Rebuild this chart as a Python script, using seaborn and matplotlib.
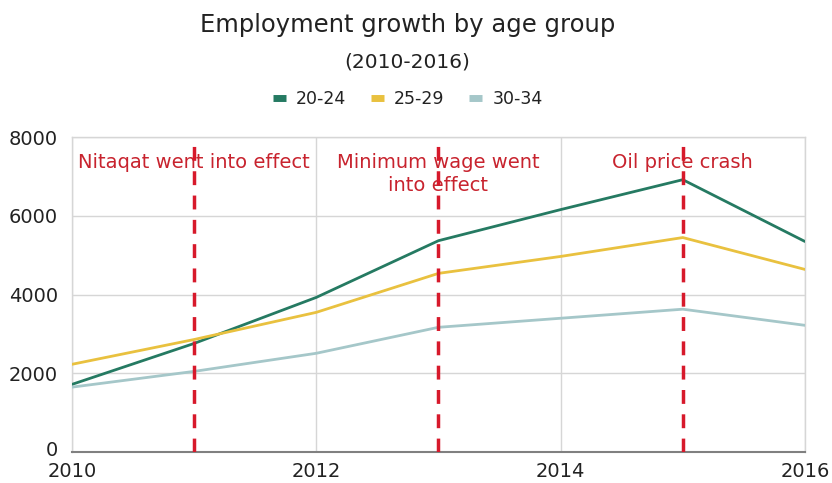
import matplotlib
matplotlib.use("Agg")
import matplotlib.pyplot as plt
import matplotlib.transforms as mtransforms
import seaborn as sns
import pandas as pd

years = [2010, 2011, 2012, 2013, 2014, 2015, 2016]
age_20_24 = [1720, 2760, 3930, 5370, 6160, 6920, 5350]
age_25_29 = [2230, 2860, 3550, 4540, 4970, 5450, 4640]
age_30_34 = [1650, 2050, 2510, 3170, 3400, 3630, 3220]
groups = ["20-24", "25-29", "30-34"]
colors = ["#257a62", "#e9c13f", "#a5c7c9"]

event_years = [2011, 2013, 2015]
event_labels = ["Nitaqat went into effect", "Minimum wage went\ninto effect", "Oil price crash"]

y_ticks = [0, 2000, 4000, 6000, 8000]
x_ticks = [2010, 2012, 2014, 2016]

df = pd.DataFrame({
    "year": years * 3,
    "value": age_20_24 + age_25_29 + age_30_34,
    "group": [g for g in groups for _ in years],
})

sns.set_theme(style="white")
plt.rcParams["font.family"] = ["DejaVu Sans"]

fig = plt.figure(figsize=(8.32, 4.83), dpi=100)
ax = fig.add_axes([0.0865, 0.064, 0.881, 0.652])

sns.lineplot(data=df, x="year", y="value", hue="group", palette=colors,
             linewidth=2.0, ax=ax, legend=False, zorder=3)

# policy / market events as dashed markers with captions
for yr, lab in zip(event_years, event_labels):
    ax.axvline(yr, color="#d7192b", linestyle=(0, (4, 3)), linewidth=2.5, zorder=5)
    ax.text(yr, 7600, lab, color="#c8232e", fontsize=14, ha="center", va="top",
            linespacing=1.25, zorder=4)

ax.set_xlim(2010, 2016)
ax.set_ylim(0, 8000)
ax.set_xticks(x_ticks)
ax.set_yticks(y_ticks)
ax.tick_params(axis="both", labelsize=14, colors="#222222", length=0)
ax.tick_params(axis="x", pad=7)
ax.tick_params(axis="y", pad=10)
ax.set_xlabel("")
ax.set_ylabel("")
ax.grid(True, color="#d6d6d6", linewidth=1.0)
for s in ["top", "right", "left"]:
    ax.spines[s].set_visible(True)
    ax.spines[s].set_color("#d6d6d6")
    ax.spines[s].set_linewidth(1.0)
ax.spines["bottom"].set_color("#808080")
ax.spines["bottom"].set_linewidth(1.5)

# lift the "0" label slightly so it clears the first year label
zero_lbl = ax.get_yticklabels()[0]
zero_lbl.set_transform(zero_lbl.get_transform() +
                       mtransforms.ScaledTranslation(0, 4 / 100, fig.dpi_scale_trans))

fig.text(0.49, 0.948, "Employment growth by age group", ha="center", va="center",
         fontsize=17.5, color="#222222")
fig.text(0.49, 0.872, "(2010-2016)", ha="center", va="center",
         fontsize=14.5, color="#222222")

handles = [plt.Line2D([0], [0], color=c, linewidth=5, solid_capstyle="butt") for c in colors]
fig.legend(handles, groups, loc="center", bbox_to_anchor=(0.49, 0.795), ncol=3,
           frameon=False, fontsize=12.5, handlelength=0.75, handletextpad=0.6,
           columnspacing=1.4, labelcolor="#222222")

fig.savefig("out.png", dpi=100)
